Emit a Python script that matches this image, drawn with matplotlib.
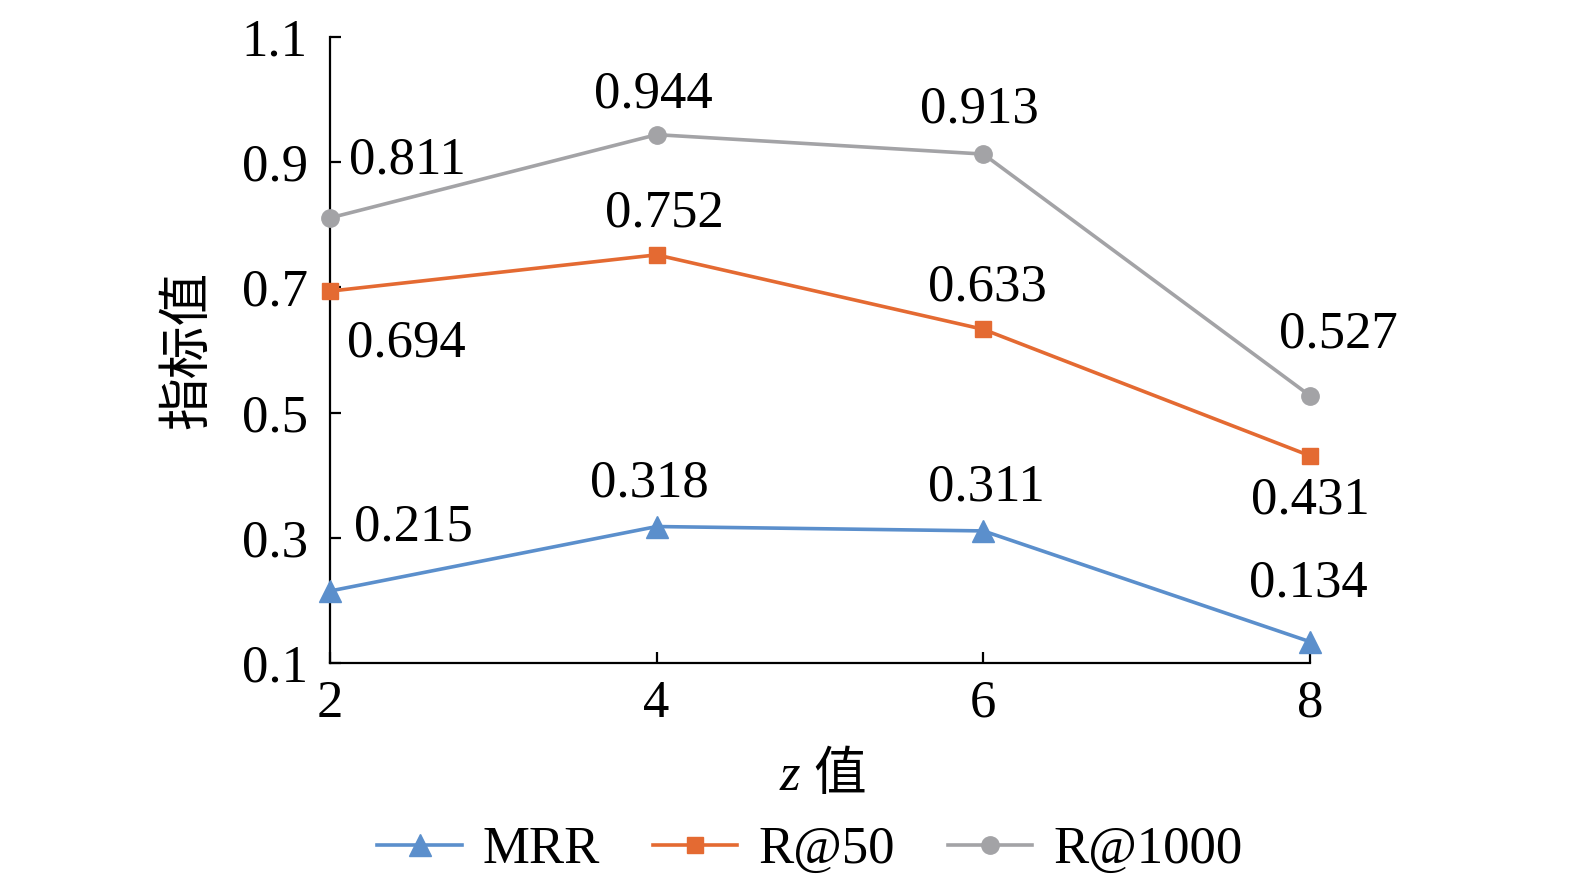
import matplotlib
matplotlib.use("Agg")
import matplotlib.pyplot as plt

# data
z_values = [2, 4, 6, 8]
mrr = [0.215, 0.318, 0.311, 0.134]
r50 = [0.694, 0.752, 0.633, 0.431]
r1000 = [0.811, 0.944, 0.913, 0.527]
y_ticks = [0.1, 0.3, 0.5, 0.7, 0.9, 1.1]
y_tick_labels = ["0.1", "0.3", "0.5", "0.7", "0.9", "1.1"]

plt.rcParams["font.family"] = "Liberation Serif"
cjk = ["Noto Sans CJK SC", "DejaVu Sans"]

fig = plt.figure(figsize=(15.75, 8.96), dpi=100)
ax = fig.add_axes([330 / 1575, 1 - 663 / 896, 980 / 1575, 626 / 896])

series = [
    ("MRR", mrr, "#5B8FCC", "^", 16, [(83, 64), (-7, 43), (3, 43), (-2, 58)]),
    ("R@50", r50, "#E46A32", "s", 12, [(76, -52), (8, 41), (4, 42), (0, -45)]),
    ("R@1000", r1000, "#A3A3A6", "o", 12.5, [(77, 57), (-3, 40), (-4, 45), (28, 61)]),
]

for name, vals, color, marker, ms, offsets in series:
    ax.plot(z_values, vals, color=color, marker=marker, markersize=ms,
            linewidth=2.6, label=name, clip_on=False, zorder=3)
    for x, y, off in zip(z_values, vals, offsets):
        ax.annotate(f"{y:.3f}", (x, y), xytext=off, textcoords="offset pixels",
                    ha="center", va="center", fontsize=38)

ax.set_xlim(2, 8)
ax.set_ylim(0.1, 1.1)
ax.set_xticks(z_values)
ax.set_yticks(y_ticks)
ax.set_yticklabels(y_tick_labels)
ax.tick_params(axis="both", direction="in", length=8, width=1.6, labelsize=38)
ax.tick_params(axis="y", pad=16)
ax.tick_params(axis="x", pad=12)
for side in ["top", "right"]:
    ax.spines[side].set_visible(False)
for side in ["left", "bottom"]:
    ax.spines[side].set_linewidth(1.6)

ax.set_ylabel("指标值", fontsize=38, labelpad=20, family=cjk)
# x label: italic z followed by the CJK word
fig.text(790 / 1575, 1 - 777 / 896, "z", fontsize=38, style="italic",
         ha="center", va="center")
fig.text(840 / 1575, 1 - 775 / 896, "值", fontsize=38, family=cjk,
         ha="center", va="center")

fig.legend(loc="center", bbox_to_anchor=(810 / 1575, 1 - 850 / 896), ncol=3,
           frameon=False, fontsize=38, handlelength=1.6, columnspacing=1.0,
           handletextpad=0.4)

fig.savefig("out.png", dpi=100)
